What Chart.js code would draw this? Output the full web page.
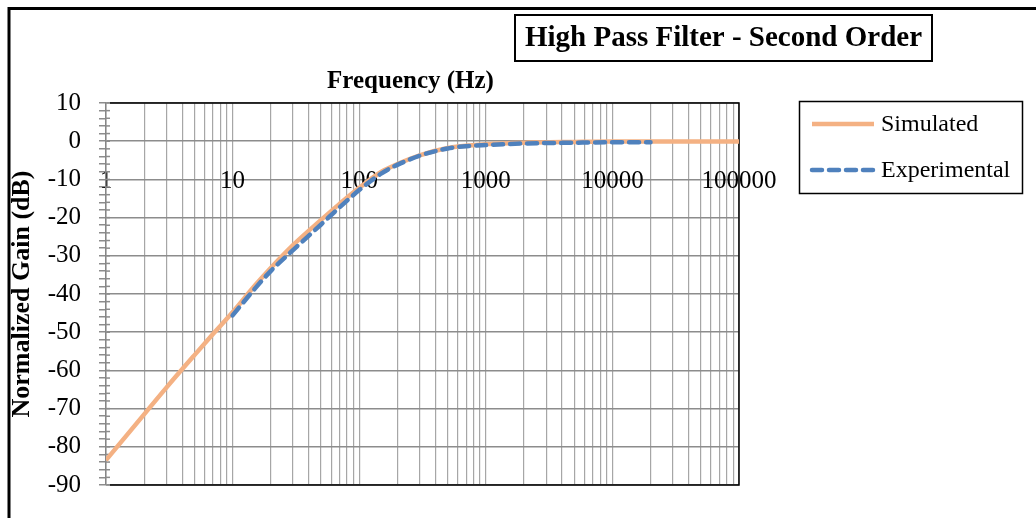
<!DOCTYPE html>
<html>
<head>
<meta charset="utf-8">
<script src="https://cdn.jsdelivr.net/npm/chart.js@4.4.1/dist/chart.umd.min.js"></script>
<style>
  html, body { margin: 0; padding: 0; background: #fff; }
  canvas { display: block; }
</style>
</head>
<body>
<canvas id="chart" width="1036" height="518"></canvas>
<script>
// values
const simFreq = [1, 2, 3, 5, 7, 10, 15, 20, 30, 50, 70, 100, 150, 200, 300, 500, 700, 1000, 2000, 5000, 10000, 20000, 50000, 100000];
const simGain = [-83.5, -71.5, -64.5, -56, -50.5, -44.8, -37.8, -33.2, -27.2, -20.6, -16.4, -12.2, -8.0, -6.0, -3.7, -1.8, -1.2, -0.8, -0.4, -0.2, -0.1, -0.1, -0.1, -0.1];
const expFreq = [10, 15, 20, 30, 50, 70, 100, 150, 200, 300, 500, 700, 1000, 2000, 5000, 10000, 20000];
const expGain = [-45.6, -38.6, -34, -28.5, -21.8, -17.3, -12.8, -8.4, -6.2, -3.8, -1.9, -1.3, -1.0, -0.6, -0.4, -0.3, -0.3];
const xTickLabels = ['1', '10', '100', '1000', '10000', '100000'];
const seriesNames = ['Simulated', 'Experimental'];

const serif = 'Liberation Serif';
const ctx = document.getElementById('chart').getContext('2d');

// extra drawing: plot frame, outer frame, title box, axis title, legend
const decor = {
  id: 'decor',
  beforeDatasetsDraw(chart) {
    const a = chart.chartArea;
    const c = chart.ctx;
    c.save();
    c.strokeStyle = '#000';
    c.lineWidth = 1.5;
    c.beginPath();
    c.moveTo(a.left + 4, a.top);
    c.lineTo(a.right, a.top);
    c.lineTo(a.right, a.bottom);
    c.lineTo(a.left + 4, a.bottom);
    c.stroke();
    // tick marks crossing into the plot
    const ys = chart.scales.y;
    c.strokeStyle = '#8c8c8c';
    c.lineWidth = 1.5;
    ys.ticks.forEach(t => {
      const py = ys.getPixelForValue(t.value);
      c.beginPath();
      c.moveTo(a.left, py);
      c.lineTo(a.left + 4, py);
      c.stroke();
    });
    c.restore();
  },
  afterDraw(chart) {
    const c = chart.ctx;
    c.save();
    // outer frame
    c.strokeStyle = '#000';
    c.lineWidth = 3;
    c.beginPath();
    c.moveTo(9, 518);
    c.lineTo(9, 8.5);
    c.lineTo(1036, 8.5);
    c.stroke();

    // title box
    c.lineWidth = 2;
    c.strokeRect(515, 15, 417, 46);
    c.fillStyle = '#000';
    c.textAlign = 'center';
    c.textBaseline = 'middle';
    c.font = 'bold 29px "' + serif + '"';
    c.fillText('High Pass Filter - Second Order', 723.5, 39);

    // x axis title
    c.font = 'bold 25px "' + serif + '"';
    c.fillText('Frequency (Hz)', 410.5, 82);

    // legend
    c.lineWidth = 1.5;
    c.strokeRect(799.5, 101.5, 223, 92);
    c.textAlign = 'left';
    c.font = '24px "' + serif + '"';
    chart.data.datasets.forEach((ds, i) => {
      const ly = 124 + i * 46;
      c.strokeStyle = ds.borderColor;
      c.lineWidth = ds.borderWidth;
      c.lineCap = ds.borderCapStyle || 'butt';
      c.setLineDash(ds.borderDash || []);
      c.beginPath();
      c.moveTo(812, ly);
      c.lineTo(874, ly);
      c.stroke();
      c.setLineDash([]);
      c.fillStyle = '#000';
      c.fillText(ds.label, 881, ly + 1);
    });
    c.restore();
  }
};

new Chart(ctx, {
  type: 'line',
  data: {
    datasets: [
      {
        label: seriesNames[0],
        data: simFreq.map((f, i) => ({ x: f, y: simGain[i] })),
        borderColor: '#f4b183',
        borderWidth: 4.5,
        pointRadius: 0,
        cubicInterpolationMode: 'monotone',
        order: 2
      },
      {
        label: seriesNames[1],
        data: expFreq.map((f, i) => ({ x: f, y: expGain[i] })),
        borderColor: '#4f81bd',
        borderWidth: 4.5,
        borderDash: [10, 7],
        borderCapStyle: 'round',
        pointRadius: 0,
        cubicInterpolationMode: 'monotone',
        order: 1
      }
    ]
  },
  options: {
    responsive: false,
    animation: false,
    layout: { padding: { left: 3, top: 103, right: 297, bottom: 32 } },
    plugins: {
      legend: { display: false },
      title: { display: false },
      tooltip: { enabled: false }
    },
    scales: {
      x: {
        type: 'logarithmic',
        min: 1,
        max: 100000,
        position: { y: -6 },
        border: { display: false },
        grid: { color: '#a6a6a6', lineWidth: 1.2, drawTicks: false },
        afterBuildTicks(scale) {
          const t = [];
          for (let d = 1; d < 100000; d *= 10) {
            for (let k = 1; k < 10; k++) t.push({ value: d * k });
          }
          t.push({ value: 100000 });
          scale.ticks = t;
        },
        ticks: {
          autoSkip: false,
          maxRotation: 0,
          padding: 2,
          color: '#000',
          font: { family: serif, size: 25 },
          callback: v => xTickLabels.includes(String(v)) ? String(v) : ''
        }
      },
      y: {
        min: -90,
        max: 10,
        afterFit(scale) { scale.width = 103; },
        border: { color: '#868686', width: 1.5 },
        grid: {
          color: c => c.tick.value % 10 === 0 ? '#8c8c8c' : 'rgba(0,0,0,0)',
          tickColor: '#8c8c8c',
          tickLength: 7,
          lineWidth: 1.5
        },
        ticks: {
          stepSize: 2,
          autoSkip: false,
          padding: 18,
          color: '#000',
          font: { family: serif, size: 25 },
          callback: v => v % 10 === 0 ? String(v) : ''
        },
        title: {
          display: true,
          text: 'Normalized Gain (dB)',
          color: '#000',
          font: { family: serif, size: 26, weight: 'bold' },
          padding: { top: 4, bottom: 0 }
        }
      }
    }
  },
  plugins: [decor]
});
</script>
</body>
</html>
